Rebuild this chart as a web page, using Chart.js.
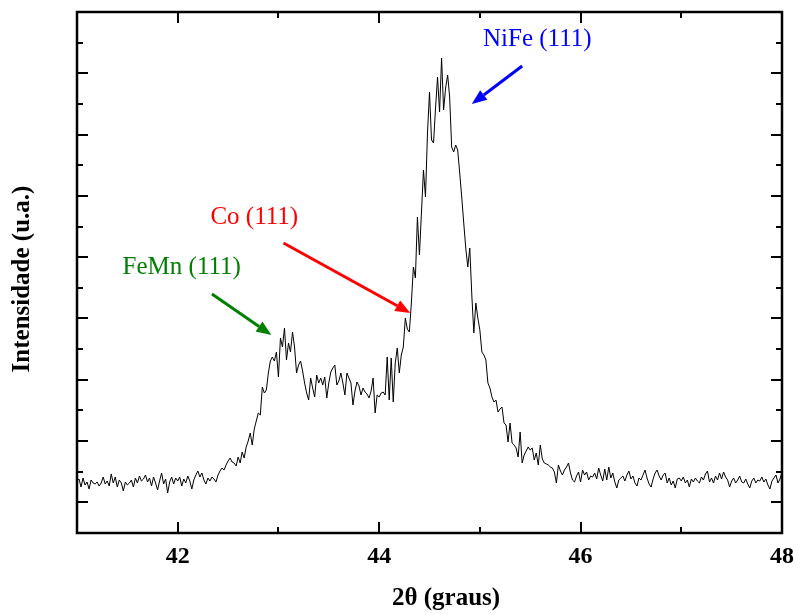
<!DOCTYPE html>
<html>
<head>
<meta charset="utf-8">
<script src="https://cdn.jsdelivr.net/npm/chart.js@4.4.1/dist/chart.umd.min.js"></script>
<style>
  html, body { margin: 0; padding: 0; background: #fff; }
</style>
</head>
<body>
<canvas id="xrd" width="798" height="615"></canvas>
<script>
// scan grid (degrees 2theta)
const thetaStart = 41.0;
const thetaStep = 0.02;

// intensity in arbitrary units
const intensity = [
  52, 54, 46, 55, 48, 51, 44, 53, 50, 49, 51, 47, 50, 56, 49, 52, 47, 59, 50, 56,
  46, 53, 50, 42, 51, 48, 50, 53, 46, 55, 50, 57, 52, 54, 58, 51, 55, 47, 56, 50,
  43, 52, 60, 49, 54, 40, 51, 56, 49, 55, 52, 56, 47, 54, 50, 57, 52, 44, 53, 58,
  62, 56, 60, 53, 49, 55, 52, 56, 54, 51, 58,
  62, 65, 63, 68, 72, 75, 71, 70, 67, 76, 70, 81, 75, 86, 92, 100, 88, 104, 112, 120,
  118, 146, 140, 143, 160, 172, 176, 172, 181, 156, 195, 186, 205, 173, 190, 181, 201, 186, 160, 168,
  172, 162, 150, 140, 133, 155, 145, 136, 158, 150, 155, 148, 156, 135, 150, 161, 165, 168, 148, 152,
  160, 150, 138, 160, 155, 150, 128, 142, 151, 147, 138, 145, 141, 139, 135, 142, 155, 120, 138, 136,
  140, 141, 138, 176, 133, 175, 131, 170, 185, 160, 178, 186, 215, 204, 201, 230, 266, 255, 316, 278,
  320, 363, 336, 400, 441, 393, 390, 425, 456, 421, 475, 423, 445, 458, 436, 386, 381, 388, 383, 360,
  336, 310, 285, 266, 285, 238, 200, 230, 215, 203, 181, 178, 173, 150, 145, 136, 131, 133, 121, 124,
  126, 110, 108, 91, 110, 90, 88, 85, 76, 101, 70, 78, 82, 86, 83, 85, 73, 80, 68, 88,
  74, 70, 69, 68, 66, 65, 61, 50, 68, 62, 58, 63, 66, 70, 60, 53, 51, 57, 61, 51,
  63, 58, 61, 53, 57, 56, 60, 54, 65,
  58, 52, 64, 53, 66, 55, 60, 51, 45, 53, 55, 57, 52, 58, 62, 54, 57, 50, 47, 55,
  53, 58, 63, 55, 49, 46, 54, 60, 63, 57, 53, 58, 60, 50, 55, 48, 52, 45, 54, 55,
  52, 56, 50, 53, 46, 54, 51, 55, 52, 50, 56, 53, 59, 62, 51, 55, 50, 57, 53, 60,
  54, 61, 56, 53, 46, 52, 55, 50, 53, 57, 51, 50, 54, 49, 45, 52, 55, 50, 53, 52,
  56, 51, 54, 48, 44, 52, 55, 58, 50, 54, 61
];

const xMin = 41, xMax = 48;
const xLabelled = [42, 44, 46, 48];
const yMax = 521;
const yMinorStep = 30.65;

// peak annotations (data coordinates)
const peakNames = ['FeMn (111)', 'Co (111)', 'NiFe (111)'];
const peakColors = ['#008000', '#ff0000', '#0000ff'];
const peakTextAt = [[42.04, 259], [42.76, 309], [45.57, 487]];
const peakArrowFrom = [[42.34, 239], [43.05, 290], [45.42, 467]];
const peakArrowTo = [[42.93, 198], [44.31, 220], [44.92, 429]];

const points = intensity.map((v, i) => ({ x: thetaStart + i * thetaStep, y: v }));

const serif = '"Liberation Serif", "Times New Roman", serif';

const framePlugin = {
    id: 'frame',
    afterDatasetsDraw(chart) {
        const ctx = chart.ctx;
        const { left, right, top, bottom } = chart.chartArea;
        const xs = chart.scales.x;
        const ys = chart.scales.y;
        ctx.save();
        ctx.strokeStyle = '#000';
        ctx.lineWidth = 2;
        ctx.beginPath();
        for (let v = xMin + 1; v < xMax; v++) {
            const px = Math.round(xs.getPixelForValue(v));
            const len = v % 2 === 0 ? 11 : 6;
            ctx.moveTo(px, bottom); ctx.lineTo(px, bottom - len);
            ctx.moveTo(px, top); ctx.lineTo(px, top + len);
        }
        for (let k = 1; k * yMinorStep < yMax - 1; k++) {
            const py = Math.round(ys.getPixelForValue(k * yMinorStep));
            const len = k % 2 === 1 ? 11 : 6;
            ctx.moveTo(left, py); ctx.lineTo(left + len, py);
            ctx.moveTo(right, py); ctx.lineTo(right - len, py);
        }
        ctx.stroke();
        ctx.lineWidth = 2.5;
        ctx.strokeRect(left, top, right - left, bottom - top);

        // arrows and peak names
        ctx.lineWidth = 3;
        for (let i = 0; i < peakNames.length; i++) {
            const x0 = xs.getPixelForValue(peakArrowFrom[i][0]);
            const y0 = ys.getPixelForValue(peakArrowFrom[i][1]);
            const x1 = xs.getPixelForValue(peakArrowTo[i][0]);
            const y1 = ys.getPixelForValue(peakArrowTo[i][1]);
            const a = Math.atan2(y1 - y0, x1 - x0);
            const head = 15, half = 6;
            const bx = x1 - head * Math.cos(a), by = y1 - head * Math.sin(a);
            ctx.strokeStyle = peakColors[i];
            ctx.fillStyle = peakColors[i];
            ctx.beginPath();
            ctx.moveTo(x0, y0);
            ctx.lineTo(bx, by);
            ctx.stroke();
            ctx.beginPath();
            ctx.moveTo(x1, y1);
            ctx.lineTo(bx + half * Math.sin(a), by - half * Math.cos(a));
            ctx.lineTo(bx - half * Math.sin(a), by + half * Math.cos(a));
            ctx.closePath();
            ctx.fill();

            ctx.font = '25px ' + serif;
            ctx.textAlign = 'center';
            ctx.textBaseline = 'alphabetic';
            ctx.fillText(peakNames[i], xs.getPixelForValue(peakTextAt[i][0]), ys.getPixelForValue(peakTextAt[i][1]));
        }

        // axis titles
        ctx.fillStyle = '#000';
        ctx.font = 'bold 25px ' + serif;
        ctx.textAlign = 'center';
        ctx.fillText('2θ (graus)', 446, 605);
        ctx.translate(29, 279);
        ctx.rotate(-Math.PI / 2);
        ctx.fillText('Intensidade (u.a.)', 0, 0);
        ctx.restore();
    }
};

new Chart(document.getElementById('xrd').getContext('2d'), {
    type: 'line',
    data: {
        datasets: [
            {
                data: points,
                borderColor: '#000',
                borderWidth: 1,
                pointRadius: 0,
                tension: 0,
                fill: false
            }
        ]
    },
    options: {
        responsive: false,
        animation: false,
        layout: { padding: { left: 0, right: 16, top: 12, bottom: 0 } },
        plugins: { legend: { display: false }, tooltip: { enabled: false } },
        scales: {
            x: {
                type: 'linear',
                min: xMin,
                max: xMax,
                grid: { display: false, drawTicks: false },
                border: { display: false },
                ticks: {
                    stepSize: 1,
                    autoSkip: false,
                    maxRotation: 0,
                    padding: 9,
                    color: '#000',
                    font: { family: serif, size: 24, weight: 'bold' },
                    callback: (v) => (xLabelled.includes(v) ? String(v) : '')
                },
                afterFit: (scale) => {
                    scale.height = 82;
                    scale.paddingLeft = 0;
                    scale.paddingRight = 0;
                }
            },
            y: {
                min: 0,
                max: yMax,
                grid: { display: false, drawTicks: false },
                border: { display: false },
                ticks: { display: false },
                afterFit: (scale) => {
                    scale.width = 77;
                    scale.paddingTop = 0;
                    scale.paddingBottom = 0;
                }
            }
        }
    },
    plugins: [framePlugin]
});
</script>
</body>
</html>
